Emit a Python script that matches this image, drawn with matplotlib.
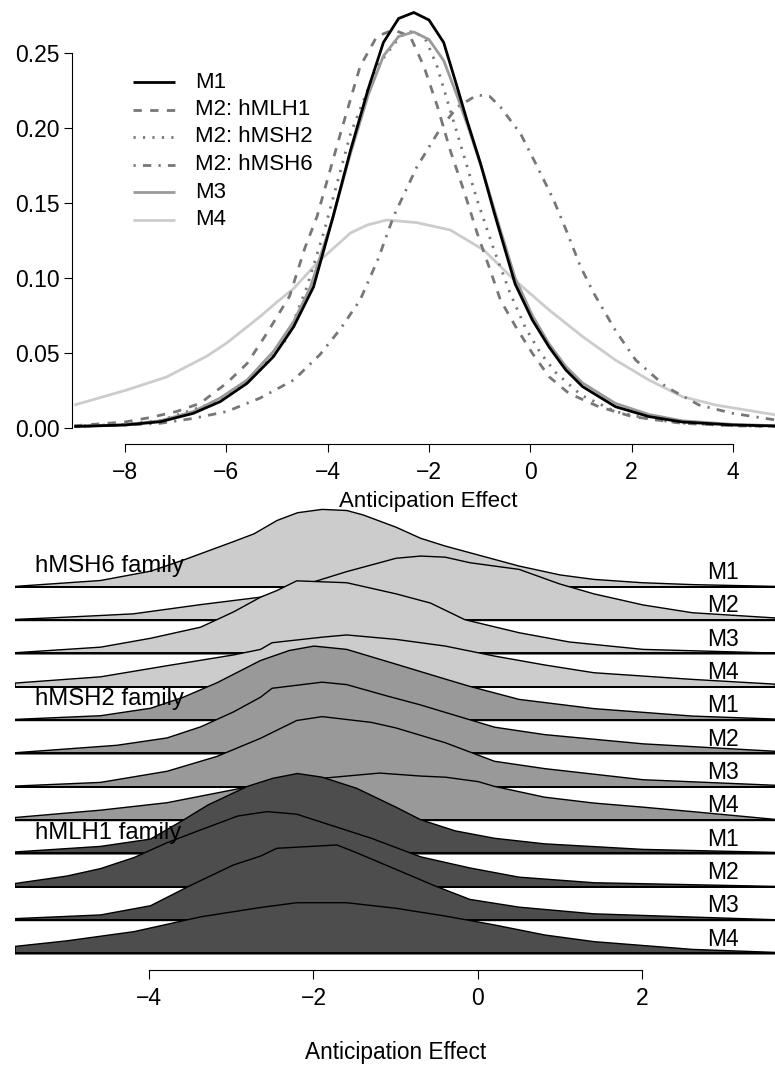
import matplotlib
matplotlib.use("Agg")
import matplotlib.pyplot as plt
import numpy as np

plt.rcParams['font.family'] = ['Liberation Sans', 'DejaVu Sans']

# ---------------- top panel data (density curves) ----------------
m1_x = [-9.0, -8.0, -7.3, -6.65, -6.12, -5.59, -5.07, -4.67, -4.28, -3.9, -3.55, -3.2, -2.9, -2.6,
        -2.3, -2.0, -1.71, -1.45, -1.25, -0.98, -0.7, -0.3, 0.04, 0.37, 0.70, 1.03, 1.68, 2.34, 3.0, 4.0, 4.9]
m1_y = [0.001, 0.002, 0.0042, 0.0098, 0.0176, 0.0298, 0.0476, 0.0676, 0.094, 0.14, 0.185, 0.226, 0.257, 0.273,
        0.277, 0.272, 0.257, 0.228, 0.205, 0.176, 0.142, 0.096, 0.072, 0.054, 0.0387, 0.0276, 0.0142, 0.0076, 0.004, 0.002, 0.0013]

mlh1_x = [-9.0, -8.0, -7.5, -6.98, -6.52, -5.99, -5.59, -5.2, -4.75, -4.45, -4.21, -3.75, -3.36, -3.03, -2.70,
          -2.37, -2.10, -1.84, -1.58, -1.30, -1.05, -0.8, -0.59, -0.29, 0.04, 0.37, 0.76, 1.35, 2.01, 3.0, 4.0, 4.9]
mlh1_y = [0.0015, 0.004, 0.007, 0.011, 0.0164, 0.030, 0.043, 0.0631, 0.088, 0.12, 0.141, 0.196, 0.241, 0.261, 0.2655,
          0.261, 0.241, 0.215, 0.185, 0.157, 0.130, 0.106, 0.0853, 0.0676, 0.0498, 0.0342, 0.0231, 0.0142, 0.0076, 0.0031, 0.0015, 0.001]

msh2_x = [-9.0, -8.0, -7.3, -6.32, -5.86, -5.33, -4.80, -4.41, -4.08, -3.55, -3.03, -2.57, -2.3, -2.05, -1.84,
          -1.44, -1.05, -0.72, -0.4, -0.1, 0.2, 0.5, 1.0, 1.68, 2.34, 3.0, 4.0, 4.9]
msh2_y = [0.0012, 0.0025, 0.005, 0.016, 0.025, 0.0387, 0.0598, 0.094, 0.130, 0.196, 0.241, 0.261, 0.265, 0.258, 0.241,
          0.196, 0.152, 0.119, 0.09, 0.067, 0.05, 0.037, 0.022, 0.011, 0.006, 0.0033, 0.0015, 0.001]

msh6_x = [-9.0, -8.0, -7.31, -6.65, -5.99, -5.33, -4.67, -4.15, -3.75, -3.36, -3.0, -2.70, -2.24, -1.77, -1.44,
          -1.05, -0.8, -0.59, -0.19, 0.14, 0.46, 0.73, 0.99, 1.25, 1.68, 2.08, 2.67, 3.33, 3.99, 4.85]
msh6_y = [0.001, 0.002, 0.0031, 0.0064, 0.011, 0.020, 0.032, 0.049, 0.066, 0.0853, 0.113, 0.141, 0.174, 0.200, 0.214,
          0.222, 0.221, 0.214, 0.196, 0.174, 0.152, 0.130, 0.1076, 0.09, 0.065, 0.0453, 0.0276, 0.0153, 0.0098, 0.0053]

m3_x = [-9.0, -8.0, -7.3, -6.65, -6.12, -5.59, -5.07, -4.67, -4.34, -3.9, -3.55, -3.2, -2.9, -2.6, -2.3, -2.0,
        -1.71, -1.45, -1.2, -0.9, -0.6, -0.3, 0.04, 0.37, 0.70, 1.03, 1.68, 2.34, 3.0, 4.0, 4.9]
m3_y = [0.001, 0.0022, 0.0048, 0.011, 0.02, 0.032, 0.051, 0.071, 0.094, 0.14, 0.183, 0.222, 0.248, 0.261, 0.264, 0.259,
        0.245, 0.222, 0.198, 0.167, 0.133, 0.1, 0.075, 0.056, 0.041, 0.030, 0.0164, 0.009, 0.0048, 0.0024, 0.0015]

m4_x = [-9.0, -7.97, -7.18, -6.39, -5.99, -5.33, -5.0, -4.67, -4.21, -3.55, -3.22, -2.83, -2.24, -1.58, -0.92,
        -0.39, 0.37, 1.03, 1.68, 2.34, 3.0, 3.66, 4.85]
m4_y = [0.0153, 0.0253, 0.034, 0.0478, 0.0567, 0.0744, 0.084, 0.093, 0.11, 0.130, 0.1353, 0.1387, 0.1369, 0.132, 0.1187,
        0.101, 0.0787, 0.061, 0.0453, 0.032, 0.0209, 0.0153, 0.0087]

top_labels = ["M1", "M2: hMLH1", "M2: hMSH2", "M2: hMSH6", "M3", "M4"]
top_xticks = [-8, -6, -4, -2, 0, 2, 4]
top_yticks = [0.00, 0.05, 0.10, 0.15, 0.20, 0.25]

# ---------------- bottom panel data (ridge densities, scaled) ----------------
families = ["hMSH6 family", "hMSH2 family", "hMLH1 family"]
models = ["M1", "M2", "M3", "M4"]

ridge_x = [
    [-5.64, -4.60, -3.99, -3.59, -2.98, -2.73, -2.45, -2.2, -1.9, -1.6, -1.4, -1.0, -0.70, -0.40, -0.10, 0.50, 1.0, 1.41, 2.0, 2.61, 3.62],
    [-5.64, -5.22, -4.60, -4.20, -3.38, -2.65, -2.08, -1.60, -1.0, -0.70, -0.40, -0.10, 0.5, 0.99, 1.41, 2.01, 2.61, 3.62],
    [-5.64, -4.60, -3.99, -3.38, -2.98, -2.65, -2.45, -2.21, -1.60, -1.0, -0.58, -0.16, 0.5, 1.11, 2.01, 3.62],
    [-5.64, -4.60, -3.79, -2.98, -2.65, -2.51, -1.90, -1.60, -1.0, -0.40, 0.20, 0.81, 1.41, 2.61, 3.62],
    [-5.64, -4.60, -3.99, -3.59, -3.18, -2.65, -2.3, -2.0, -1.60, -1.0, -0.40, -0.10, 0.5, 1.41, 2.61, 3.62],
    [-5.64, -4.40, -3.79, -3.38, -2.98, -2.65, -2.51, -1.90, -1.60, -1.12, -0.70, -0.40, 0.20, 0.81, 2.01, 3.62],
    [-5.64, -4.60, -3.79, -3.18, -2.65, -2.21, -1.90, -1.30, -1.0, -0.40, 0.20, 0.81, 2.01, 3.62],
    [-5.64, -4.60, -3.79, -2.98, -2.65, -2.2, -1.6, -1.2, -0.7, -0.4, 0.0, 0.2, 0.81, 1.41, 2.01, 2.61, 3.62],
    [-5.64, -4.6, -3.99, -3.6, -3.29, -2.81, -2.5, -2.2, -1.90, -1.48, -1.0, -0.70, -0.28, 0.2, 0.81, 2.01, 3.62],
    [-5.64, -5.01, -4.60, -4.19, -3.79, -3.41, -2.93, -2.57, -2.21, -1.72, -1.30, -0.70, -0.10, 0.5, 1.41, 3.62],
    [-5.64, -4.6, -3.99, -3.50, -2.98, -2.65, -2.45, -1.96, -1.72, -1.48, -1.0, -0.52, -0.10, 0.5, 1.41, 3.62],
    [-5.64, -5.01, -4.19, -3.38, -2.65, -2.21, -1.60, -1.0, -0.40, 0.20, 0.81, 1.41, 2.61, 3.62],
]
ridge_d = [
    [0.007, 0.06, 0.144, 0.244, 0.41, 0.48, 0.60, 0.67, 0.70, 0.69, 0.65, 0.54, 0.44, 0.37, 0.31, 0.19, 0.11, 0.07, 0.04, 0.023, 0.007],
    [0.01, 0.023, 0.045, 0.06, 0.143, 0.21, 0.33, 0.44, 0.56, 0.58, 0.57, 0.52, 0.46, 0.33, 0.24, 0.14, 0.07, 0.023],
    [0.01, 0.06, 0.14, 0.24, 0.377, 0.51, 0.57, 0.657, 0.64, 0.54, 0.457, 0.307, 0.19, 0.107, 0.04, 0.007],
    [0.037, 0.093, 0.193, 0.29, 0.34, 0.40, 0.45, 0.47, 0.43, 0.37, 0.28, 0.20, 0.13, 0.07, 0.027],
    [0.01, 0.043, 0.11, 0.21, 0.34, 0.54, 0.63, 0.67, 0.64, 0.507, 0.373, 0.307, 0.19, 0.107, 0.04, 0.013],
    [0.01, 0.077, 0.143, 0.243, 0.377, 0.51, 0.59, 0.645, 0.623, 0.523, 0.44, 0.373, 0.24, 0.173, 0.09, 0.023],
    [0.01, 0.043, 0.143, 0.277, 0.44, 0.60, 0.635, 0.583, 0.533, 0.40, 0.233, 0.167, 0.067, 0.017],
    [0.027, 0.093, 0.16, 0.277, 0.327, 0.36, 0.40, 0.427, 0.40, 0.39, 0.35, 0.307, 0.21, 0.157, 0.12, 0.08, 0.01],
    [0.017, 0.067, 0.133, 0.30, 0.44, 0.607, 0.68, 0.723, 0.69, 0.59, 0.42, 0.307, 0.207, 0.14, 0.09, 0.04, 0.013],
    [0.033, 0.10, 0.167, 0.267, 0.40, 0.507, 0.64, 0.68, 0.657, 0.54, 0.44, 0.273, 0.173, 0.09, 0.04, 0.007],
    [0.017, 0.05, 0.133, 0.317, 0.50, 0.58, 0.65, 0.67, 0.68, 0.61, 0.46, 0.31, 0.19, 0.12, 0.06, 0.007],
    [0.067, 0.117, 0.20, 0.333, 0.417, 0.46, 0.46, 0.41, 0.34, 0.26, 0.17, 0.11, 0.04, 0.013],
]
bottom_xticks = [-4, -2, 0, 2]

# ---------------- figure ----------------
W, H = 775, 1065
fig = plt.figure(figsize=(W / 100, H / 100), dpi=100)

# ---------- top axes ----------
tl, tr, tb, tt = 72, 775, 444, 0   # pixel box
ax = fig.add_axes([tl / W, 1 - tb / H, (tr - tl) / W, (tb - tt) / H])
ax.set_xlim(-9.046, 4.829)
ax.set_ylim(-0.01067, 0.28533)

gray = "#777777"
styles = [
    dict(color="black", lw=2.0, ls="-"),
    dict(color=gray, lw=2.0, ls=(0, (3, 3))),
    dict(color=gray, lw=2.0, ls=(0, (0.8, 2.6))),
    dict(color=gray, lw=2.0, ls=(0, (0.8, 2.6, 3, 2.6))),
    dict(color="#9a9a9a", lw=2.0, ls="-"),
    dict(color="#cccccc", lw=2.0, ls="-"),
]
series = [(m1_x, m1_y), (mlh1_x, mlh1_y), (msh2_x, msh2_y), (msh6_x, msh6_y), (m3_x, m3_y), (m4_x, m4_y)]
draw_order = [5, 3, 1, 2, 4, 0]
for i in draw_order:
    xs, ys = series[i]
    st = styles[i]
    ax.plot(xs, ys, color=st["color"], lw=st["lw"], ls=st["ls"], solid_capstyle="butt",
            dash_capstyle="butt", solid_joinstyle="round", zorder=2 + (1 if i == 0 else 0))

for s in ["top", "right"]:
    ax.spines[s].set_visible(False)
ax.spines["left"].set_bounds(0, 0.25)
ax.spines["bottom"].set_bounds(-8, 4)
for s in ["left", "bottom"]:
    ax.spines[s].set_linewidth(0.8)
ax.set_xticks(top_xticks)
ax.set_xticklabels([f"{v:d}".replace("-", "\u2212") for v in top_xticks])
ax.set_yticks(top_yticks)
ax.set_yticklabels([f"{v:.2f}" for v in top_yticks])
ax.tick_params(axis="both", labelsize=16.5, length=6, width=0.8, direction="out")
ax.tick_params(axis="x", pad=6)
ax.tick_params(axis="y", pad=3)

# legend (manual)
def fx(px):
    return (px - tl) / (tr - tl)

def fy(py):
    return (tb - py) / (tb - tt)

rows = [82, 109.5, 137, 164.5, 192, 219.5]
for i, lab in enumerate(top_labels):
    st = styles[i]
    ax.plot([fx(133), fx(175)], [fy(rows[i]), fy(rows[i])], transform=ax.transAxes,
            color=st["color"], lw=st["lw"], ls=st["ls"], dash_capstyle="butt", solid_capstyle="butt")
    ax.text(fx(195), fy(rows[i]), lab, transform=ax.transAxes, fontsize=16, va="center", ha="left")

fig.text(428 / W, 1 - 501 / H, "Anticipation Effect", fontsize=16, ha="center", va="center")

# ---------- bottom axes ----------
bl, br, bb, bt = 15, 775, 970, 505
ax2 = fig.add_axes([bl / W, 1 - bb / H, (br - bl) / W, (bb - bt) / H])
ax2.set_xlim(-5.636, 3.624)
ax2.set_ylim(-0.5, 13.45)

fills = ["#cccccc", "#999999", "#4d4d4d"]
scale = 3.333
n = len(ridge_x)
for i in range(n):
    base = (n - 1) - i
    fam = i // 4
    xs = np.array(ridge_x[i])
    ds = np.array(ridge_d[i]) * scale
    z = 2 + i
    ax2.fill_between(xs, base, base + ds, facecolor=fills[fam], edgecolor="black", lw=1.0,
                     joinstyle="round", zorder=z)
    ax2.plot([xs[0], xs[-1]], [base, base], color="black", lw=1.4, zorder=z + 0.5, solid_capstyle="butt")
    ax2.text((707 - bl) / (br - bl), base + 0.23, models[i % 4], transform=ax2.get_yaxis_transform(),
             fontsize=16.5, ha="left", va="baseline", zorder=50)
    if i % 4 == 0:
        ax2.text((35 - bl) / (br - bl), base + 0.435, families[fam], transform=ax2.get_yaxis_transform(),
                 fontsize=17.2, ha="left", va="baseline", zorder=50)

for s in ["top", "right", "left"]:
    ax2.spines[s].set_visible(False)
ax2.spines["bottom"].set_bounds(-4, 2)
ax2.spines["bottom"].set_linewidth(0.8)
ax2.set_yticks([])
ax2.set_xticks(bottom_xticks)
ax2.set_xticklabels([f"{v:d}".replace("-", "\u2212") for v in bottom_xticks])
ax2.tick_params(axis="x", labelsize=16.5, length=6.5, width=0.8, direction="out", pad=6)

fig.text(396 / W, 1 - 1052 / H, "Anticipation Effect", fontsize=16.3, ha="center", va="center")

fig.savefig("out.png", dpi=100)
